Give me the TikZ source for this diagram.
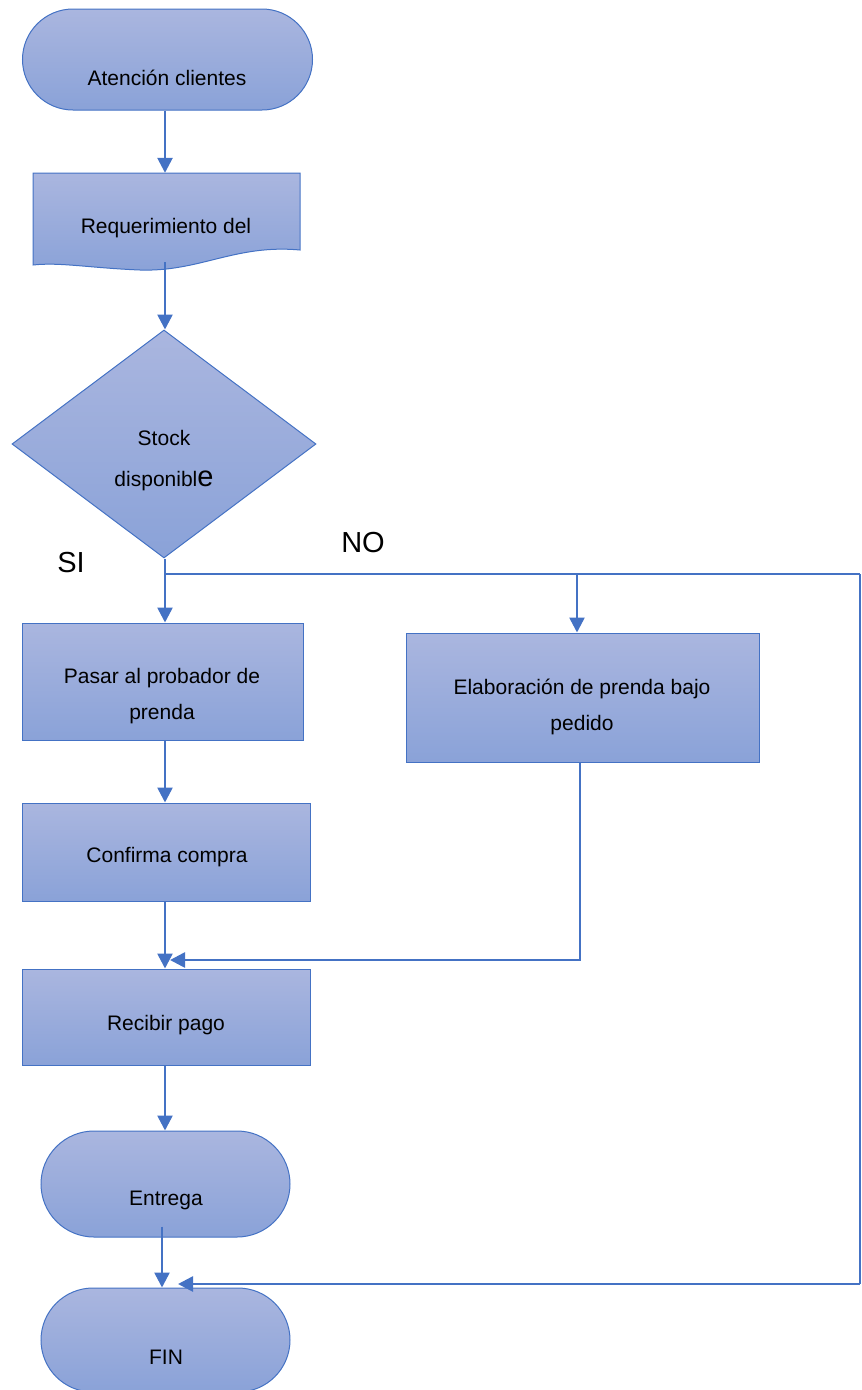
\documentclass[tikz,border=0pt]{standalone}
\usepackage{fontspec}
\setmainfont{Liberation Sans}
\usetikzlibrary{shapes.geometric,shapes.misc,arrows.meta}
\definecolor{lnc}{HTML}{4472C4}
\definecolor{ftop}{HTML}{AAB6DF}
\definecolor{fbot}{HTML}{8AA2D8}
\begin{document}
\begin{tikzpicture}[x=1pt,y=-1pt,
  shp/.style={draw=lnc, line width=1pt, top color=ftop, bottom color=fbot, inner sep=0pt},
  term/.style={shp, rounded rectangle},
  proc/.style={shp, rectangle},
  decis/.style={shp, diamond},
  txt/.style={font=\fontsize{21}{36}\selectfont, align=center, text=black, inner sep=0pt},
  big/.style={font=\fontsize{29}{34}\selectfont, text=black, inner sep=0pt},
  arr/.style={draw=lnc, line width=2.6pt, -{Triangle[width=15pt,length=15pt]}},
  flow/.style={draw=lnc, line width=2pt}
]
\useasboundingbox (0,0) rectangle (862,1390);
\begin{scope}
\clip (0,0) rectangle (862,1390);
% shapes
\node[term, minimum width=290pt, minimum height=101pt] (start) at (167.5,59.5) {};
\path[shp] (33,173) -- (300,173) -- (300,250) .. controls (235,244) and (200,272) .. (140,270) .. controls (90,268) and (60,262) .. (33,265) -- cycle;
\node[inner sep=0pt, minimum width=267pt, minimum height=89pt] (req) at (166.5,217.5) {};
\node[decis, minimum width=304pt, minimum height=228pt] (dec) at (164,444) {};
\node[proc, minimum width=281pt, minimum height=117pt] (pasar) at (162.5,681.5) {};
\node[proc, minimum width=353pt, minimum height=129pt] (elab) at (582.5,697.5) {};
\node[proc, minimum width=288pt, minimum height=98pt] (conf) at (166,852) {};
\node[proc, minimum width=288pt, minimum height=96pt] (recib) at (166,1017) {};
\node[term, minimum width=249pt, minimum height=106pt] (entrega) at (165.5,1184) {};
\node[term, minimum width=249pt, minimum height=104pt] (fin) at (165.5,1340) {};
\end{scope}
% texts
\node[txt] (t1) at (167,78) {Atención clientes};
\node[txt] (t2) at (166,228) {Requerimiento del};
\node[txt, font=\fontsize{21}{41}\selectfont] (t3) at (164,461) {Stock\\disponibl{\fontsize{29}{34}\selectfont e}};
\node[txt] (t4) at (162,696) {Pasar al probador de\\prenda};
\node[txt] (t5) at (582,706.5) {Elaboración de prenda bajo\\pedido};
\node[txt] (t6) at (167,857) {Confirma compra};
\node[txt] (t7) at (166,1025) {Recibir pago};
\node[txt] (t8) at (166,1200) {Entrega};
\node[txt] (t9) at (166,1357) {FIN};
\node[big] (si) at (71,563) {SI};
\node[big] (no) at (363,543) {NO};
% coordinates
\coordinate (cx) at (165,0);
\coordinate (j) at (165,574);
\coordinate (je) at (577,574);
\coordinate (rt) at (860,574);
\coordinate (rb) at (860,1284);
\coordinate (fe) at (178,1284);
\coordinate (ec) at (580,960);
\coordinate (ee) at (170,960);
% connectors
\draw[arr] (start.south -| cx) -- (req.north -| cx);
\draw[arr] (req.south -| cx) -- (dec.north -| cx);
\draw[arr] (dec.south -| cx) -- (pasar.north -| cx);
\draw[arr] (j) -- (je) -- (je |- elab.north);
\draw[draw=lnc, line width=1.2pt] (je) -- (rt);
\draw[flow] (rt) -- (rb);
\draw[arr] (rb) -- (fe);
\draw[arr] (pasar.south -| cx) -- (conf.north -| cx);
\draw[arr] (conf.south -| cx) -- (recib.north -| cx);
\draw[arr] (elab.south -| ec) -- (ec) -- (ee);
\draw[arr] (recib.south -| cx) -- (entrega.north -| cx);
\draw[arr] ([yshift=11pt]entrega.south -| 162,0) -- (fin.north -| 162,0);
\end{tikzpicture}
\end{document}
